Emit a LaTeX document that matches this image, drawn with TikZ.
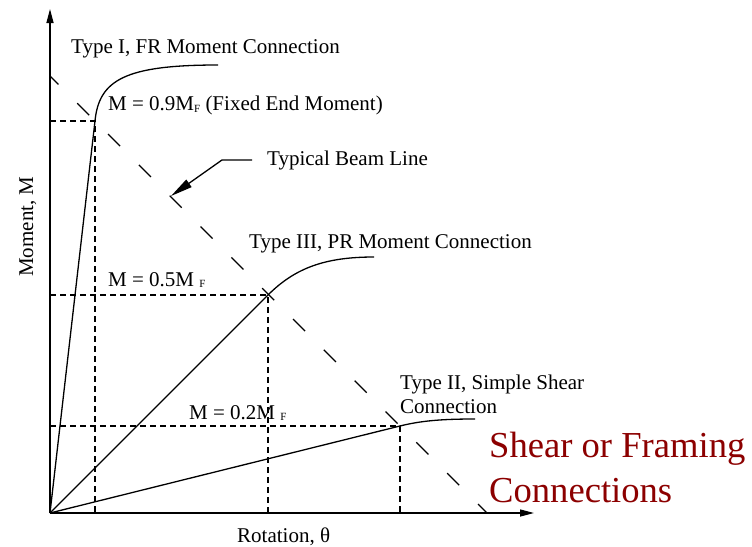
\documentclass[tikz,border=0pt]{standalone}
\usepackage{fontspec}
\setmainfont{Liberation Serif}
\usetikzlibrary{arrows.meta}

\definecolor{framered}{RGB}{140,0,0}
\newcommand{\subF}[1]{\raisebox{#1}{\fontsize{11}{13}\selectfont F}}

\begin{document}
\begin{tikzpicture}[
  x=1pt, y=-1pt,
  >={Triangle[length=14pt,width=7pt]},
  axis/.style   = {->, line width=1.4pt},
  curve/.style  = {line width=1.3pt},
  guide/.style  = {line width=1.4pt, dash pattern=on 6pt off 4pt},
  beam/.style   = {line width=1.3pt, dash pattern=on 17pt off 26.6pt, dash phase=5.1pt},
  leader/.style = {-{Triangle[length=22pt,width=9pt]}, line width=1.3pt},
  lbl/.style    = {font=\fontsize{21}{25}\selectfont, inner sep=0pt, anchor=base west},
  redlbl/.style = {font=\fontsize{36.6}{44}\selectfont, text=framered, inner sep=0pt, anchor=base west},
]
\useasboundingbox (0,0) rectangle (752,546);

%% ------------------------------------------------------------------ AXES
\coordinate (O)    at (50,513);
\coordinate (ytop) at (50,9);
\coordinate (xend) at (534,513);
\draw[axis] (O) -- (ytop);
\draw[axis] (O) -- (xend);

\node[lbl, rotate=90] (ylbl) at (33,277) {Moment, M};
\node[lbl]            (xlbl) at (237,542) {Rotation, θ};

%% ------------------------------------------------------------------ BEAM LINE
% points where the beam line meets each connection curve
\coordinate (p1) at (95,121);
\coordinate (p3) at (268,295);
\coordinate (p2) at (400,426);

\coordinate (bstart) at (50,76);
\coordinate (bend)   at (487,513);
\draw[beam] (bstart) -- (bend);

% guides to the axes
\draw[guide] (O |- p1) -- (p1) -- (p1 |- O);
\draw[guide] (O |- p3) -- (p3) -- (p3 |- O);
\draw[guide] (O |- p2) -- (p2) -- (p2 |- O);

%% ------------------------------------------------------------------ CURVES
\draw[curve] (O) -- (p1) .. controls (99,80) and (125,65) .. (218,65);    % type I
\draw[curve] (O) -- (p3) .. controls (295,268) and (325,257) .. (374,257); % type III
\draw[curve] (O) -- (p2) .. controls (420,421) and (440,419) .. (475,419); % type II

%% ------------------------------------------------------------------ LABELS
\node[lbl] (t1)  at (71,53)   {Type I, FR Moment Connection};
\node[lbl] (m9)  at (108,110) {M = 0.9M\subF{-2pt} (Fixed End Moment)};
\node[lbl] (t3)  at (249,248) {Type III, PR Moment Connection};
\node[lbl] (m5)  at (108,286) {M = 0.5M \subF{-1pt}};
\node[lbl] (t2a) at (400,389) {Type II, Simple Shear};
\node[lbl] (t2b) at (400,413) {Connection};
\node[lbl] (m2)  at (189,419) {M = 0.2M \subF{-1pt}};

\node[lbl] (beamlbl) at (267,165) {Typical Beam Line};
\coordinate (btip) at (171,196);
\draw[leader] ([xshift=-15pt]beamlbl.west) -- ++(-30,0) -- (btip);

\node[redlbl] (red1) at (489,457) {Shear or Framing};
\node[redlbl] (red2) at (489,502) {Connections};

\end{tikzpicture}
\end{document}
